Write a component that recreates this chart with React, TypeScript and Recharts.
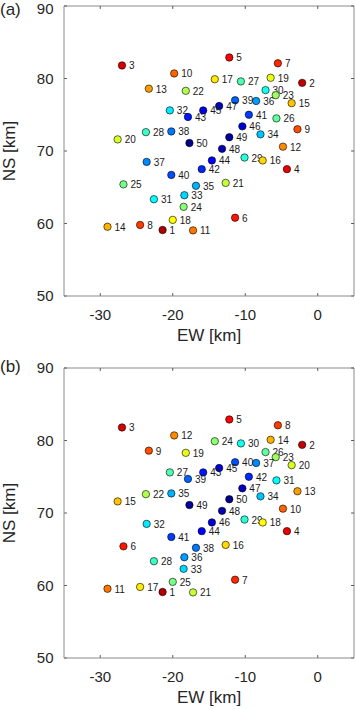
import { ScatterChart, Scatter, XAxis, YAxis, ReferenceLine, Label } from 'recharts'

// station positions (same in both panels), km
const EW = [
  -27.0, -19.8, -12.2, -5.5, -2.15, -23.3, -18.2, -14.2, -10.6, -6.5,
  -7.2, -5.8, -3.6, -8.5, -11.4, -13.6, -15.8, -20.4, -17.9, -9.5,
  -5.7, -10.4, -2.8, -23.7, -20.2, -27.6, -12.2, -7.9, -17.7, -13.2,
  -4.8, -23.6, -14.6, -10.1, -7.6, -4.25, -20.2, -16.0, -26.8, -16.8,
  -12.7, -18.4, -22.6, -18.5, -20.0, -11.4, -29.0, -24.5, -21.4, -17.2,
]
const NS = [
  81.8, 80.7, 82.9, 82.1, 79.4, 78.6, 78.3, 79.9, 79.6, 80.1,
  78.4, 77.7, 76.6, 76.9, 77.0, 76.2, 75.6, 75.6, 74.7, 75.0,
  74.5, 73.4, 73.0, 72.6, 72.7, 71.6, 71.9, 72.3, 71.1, 70.3,
  70.6, 68.5, 68.7, 69.1, 68.7, 67.5, 66.7, 67.5, 65.4, 65.2,
  65.6, 63.9, 63.35, 62.3, 60.5, 60.8, 59.55, 59.8, 59.1, 59.05,
]
// station numbers, panel (a) and panel (b)
const LABELS_A = [
  3, 10, 5, 7, 2, 13, 22, 17, 27, 19,
  30, 23, 15, 36, 39, 47, 45, 32, 43, 41,
  26, 46, 9, 28, 38, 20, 49, 34, 50, 48,
  12, 37, 44, 29, 16, 4, 40, 42, 25, 35,
  21, 33, 31, 24, 18, 6, 14, 8, 1, 11,
]
const LABELS_B = [
  3, 12, 5, 8, 2, 9, 19, 24, 30, 14,
  26, 23, 20, 37, 40, 45, 43, 27, 39, 42,
  31, 47, 13, 22, 35, 15, 50, 34, 49, 48,
  10, 32, 46, 29, 18, 4, 41, 44, 6, 38,
  16, 36, 28, 33, 25, 7, 11, 17, 1, 21,
]
const X_TICKS = [-30, -20, -10, 0]
const Y_TICKS = [50, 60, 70, 80, 90]
const X_DOMAIN: [number, number] = [-35, 5]
const Y_DOMAIN: [number, number] = [50, 90]

const FONT = '"Liberation Sans", Arial, sans-serif'
const TEXT = '#262626'
const BOX = '#8a8a8a'
const TICK_LEN = 0.4

// matlab jet(50), reversed so that station 1 is dark red
function jet(n: number) {
  const i = 51 - n
  const u = (k: number) => (k < 1 || k > 38 ? 0 : k <= 13 ? k / 13 : k <= 25 ? 1 : (39 - k) / 13)
  const c = (v: number) => Math.round(v * 255)
  return `rgb(${c(u(i - 20))},${c(u(i - 7))},${c(u(i + 6))})`
}

const Marker = (props: any) => {
  const { cx, cy, payload } = props
  if (cx == null || cy == null) return <g />
  return (
    <g>
      <circle cx={cx} cy={cy} r={3.7} fill={jet(payload.n)} stroke="#000" strokeWidth={0.6} />
      <text x={cx + 7} y={cy + 4} fontSize={10} fill="#1a1a1a" fontFamily={FONT}>
        {payload.n}
      </text>
    </g>
  )
}

function Panel({ tag, labels, height, top, tagY }: { tag: string; labels: number[]; height: number; top: number; tagY: number }) {
  const data = EW.map((x, i) => ({ x, y: NS[i], n: labels[i] }))
  return (
    <ScatterChart width={355} height={height} margin={{ top, right: 1, bottom: 0, left: 0 }}>
      <XAxis
        type="number"
        dataKey="x"
        domain={X_DOMAIN}
        ticks={X_TICKS}
        allowDataOverflow
        height={height - top - 290}
        stroke={BOX}
        tickLine={false}
        tickSize={0}
        tickMargin={13.5}
        tick={{ fill: TEXT, fontSize: 15, fontFamily: FONT }}
      >
        <Label value="EW [km]" position="insideTop" offset={33} fill={TEXT} fontSize={17} fontFamily={FONT} />
      </XAxis>
      <YAxis
        type="number"
        dataKey="y"
        domain={Y_DOMAIN}
        ticks={Y_TICKS}
        allowDataOverflow
        width={64}
        stroke={BOX}
        tickLine={false}
        tickSize={0}
        tickMargin={10.5}
        tick={{ fill: TEXT, fontSize: 15, fontFamily: FONT }}
      >
        <Label
          value="NS [km]"
          angle={-90}
          position="insideLeft"
          offset={9}
          fill={TEXT}
          fontSize={17}
          fontFamily={FONT}
          style={{ textAnchor: 'middle' }}
        />
        <Label
          content={() => (
            <text x={0} y={tagY} fontSize={17} fill={TEXT} fontFamily={FONT}>
              {tag}
            </text>
          )}
        />
      </YAxis>
      {/* box: top and right edges */}
      <ReferenceLine y={Y_DOMAIN[1]} stroke={BOX} />
      <ReferenceLine x={X_DOMAIN[1]} stroke={BOX} />
      {/* inward ticks, all four sides */}
      {X_TICKS.map((t) => (
        <ReferenceLine key={'xb' + t} segment={[{ x: t, y: Y_DOMAIN[0] }, { x: t, y: Y_DOMAIN[0] + TICK_LEN }]} stroke="#555" />
      ))}
      {X_TICKS.map((t) => (
        <ReferenceLine key={'xt' + t} segment={[{ x: t, y: Y_DOMAIN[1] }, { x: t, y: Y_DOMAIN[1] - TICK_LEN }]} stroke="#555" />
      ))}
      {Y_TICKS.map((t) => (
        <ReferenceLine key={'yl' + t} segment={[{ x: X_DOMAIN[0], y: t }, { x: X_DOMAIN[0] + TICK_LEN, y: t }]} stroke="#555" />
      ))}
      {Y_TICKS.map((t) => (
        <ReferenceLine key={'yr' + t} segment={[{ x: X_DOMAIN[1], y: t }, { x: X_DOMAIN[1] - TICK_LEN, y: t }]} stroke="#555" />
      ))}
      <Scatter data={data} shape={Marker} isAnimationActive={false} />
    </ScatterChart>
  )
}

export default function App() {
  return (
    <div style={{ position: 'absolute', left: 0, top: 0, width: 355, height: 709, background: '#fff', overflow: 'hidden' }}>
      <Panel tag="(a)" labels={LABELS_A} height={355} top={6} tagY={15} />
      <div style={{ position: 'absolute', left: 0, top: 355 }}>
        <Panel tag="(b)" labels={LABELS_B} height={354} top={13} tagY={16.5} />
      </div>
    </div>
  )
}
